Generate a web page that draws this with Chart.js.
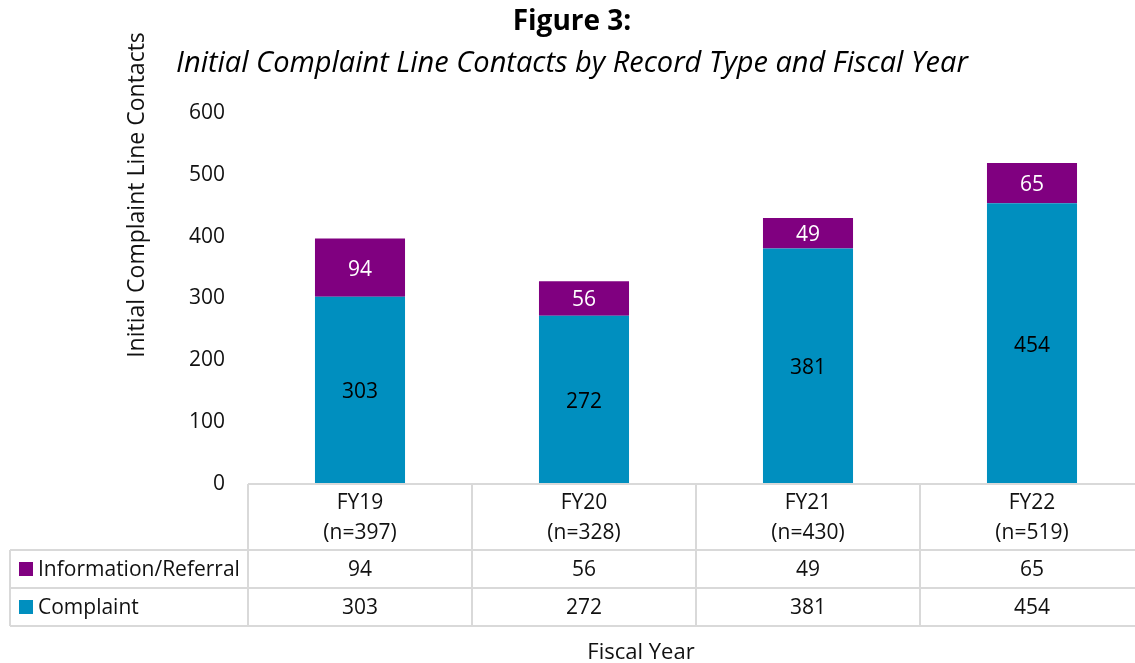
<!DOCTYPE html>
<html>
<head>
<meta charset="utf-8">
<script src="https://cdn.jsdelivr.net/npm/chart.js@4.4.0/dist/chart.umd.min.js"></script>
<style>
  html, body { margin: 0; padding: 0; background: #fff; overflow: hidden; }
  #wrap { width: 1135px; height: 663px; overflow: hidden; }
</style>
</head>
<body>
<div id="wrap"><canvas id="chart" width="1144" height="663"></canvas></div>
<script>
// Chart data
const categories = ['FY19', 'FY20', 'FY21', 'FY22'];
const infoReferral = [94, 56, 49, 65];
const complaint = [303, 272, 381, 454];
const seriesNames = ['Information/Referral', 'Complaint'];
const yMin = 0;
const yMax = 600;
const yStep = 100;

const FONT = '"Open Sans", sans-serif';
const PURPLE = '#800080';
const TEAL = '#008fbf';
const TEXT = '#111';
const LINE = '#d9d9d9';

// Value labels inside each bar segment
const segmentLabels = {
    id: 'segmentLabels',
    afterDatasetsDraw(chart) {
        const ctx = chart.ctx;
        ctx.save();
        ctx.font = '21px ' + FONT;
        ctx.textAlign = 'center';
        ctx.textBaseline = 'middle';
        chart.data.datasets.forEach(function(ds, di) {
            const meta = chart.getDatasetMeta(di);
            ctx.fillStyle = ds.labelColor;
            meta.data.forEach(function(bar, i) {
                const y = (bar.y + bar.base) / 2;
                ctx.fillText(String(ds.data[i]), bar.x, y + 2);
            });
        });
        ctx.restore();
    }
};

// Data table under the plot, plus axis titles
const dataTable = {
    id: 'dataTable',
    afterDraw(chart) {
        const ctx = chart.ctx;
        const x = chart.scales.x;
        const area = chart.chartArea;
        const half = (x.getPixelForValue(1) - x.getPixelForValue(0)) / 2;
        const top = area.bottom;
        const row1 = 550, row2 = 588, bottom = 626;
        const tableLeft = 10;

        ctx.save();
        ctx.strokeStyle = LINE;
        ctx.lineWidth = 2;
        ctx.beginPath();
        ctx.moveTo(area.left, top); ctx.lineTo(area.right, top);
        [row1, row2, bottom].forEach(function(y) {
            ctx.moveTo(tableLeft, y); ctx.lineTo(area.right, y);
        });
        ctx.moveTo(tableLeft, row1); ctx.lineTo(tableLeft, bottom);
        for (let i = 0; i <= categories.length; i++) {
            const px = x.getPixelForValue(i) - half;
            ctx.moveTo(px, top); ctx.lineTo(px, bottom);
        }
        ctx.stroke();

        ctx.fillStyle = TEXT;
        ctx.font = '21px ' + FONT;
        ctx.textAlign = 'center';
        ctx.textBaseline = 'middle';
        categories.forEach(function(cat, i) {
            const cx = x.getPixelForValue(i);
            ctx.fillText(cat, cx, 503);
            ctx.fillText('(n=' + (infoReferral[i] + complaint[i]) + ')', cx, 533);
            ctx.fillText(String(infoReferral[i]), cx, 570);
            ctx.fillText(String(complaint[i]), cx, 608);
        });

        // legend keys
        ctx.textAlign = 'left';
        [PURPLE, TEAL].forEach(function(c, r) {
            const cy = r === 0 ? 569 : 607;
            ctx.fillStyle = c;
            ctx.fillRect(19, cy - 7, 14, 14);
            ctx.fillStyle = TEXT;
            ctx.fillText(seriesNames[r], 38, cy + 1);
        });

        // axis titles
        ctx.textAlign = 'center';
        ctx.font = '22px ' + FONT;
        ctx.fillText('Fiscal Year', 641, 653);
        ctx.font = '23px ' + FONT;
        ctx.translate(137, 195);
        ctx.rotate(-Math.PI / 2);
        ctx.fillText('Initial Complaint Line Contacts', 0, 0);
        ctx.restore();
    }
};

new Chart(document.getElementById('chart'), {
    type: 'bar',
    data: {
        labels: categories,
        datasets: [
            {
                label: seriesNames[1],
                data: complaint,
                backgroundColor: TEAL,
                labelColor: '#000'
            },
            {
                label: seriesNames[0],
                data: infoReferral,
                backgroundColor: PURPLE,
                labelColor: '#fff'
            }
        ]
    },
    options: {
        responsive: false,
        animation: false,
        events: [],
        layout: {
            padding: { left: 0, right: 0, top: 0, bottom: 179 }
        },
        datasets: {
            bar: { categoryPercentage: 1, barPercentage: 0.402 }
        },
        scales: {
            x: {
                stacked: true,
                display: false
            },
            y: {
                stacked: true,
                min: yMin,
                max: yMax,
                grid: { display: false, drawTicks: false },
                border: { display: false },
                ticks: {
                    stepSize: yStep,
                    padding: 23,
                    color: TEXT,
                    font: { family: FONT, size: 21 }
                },
                afterFit: function(scale) { scale.width = 248; }
            }
        },
        plugins: {
            legend: { display: false },
            tooltip: { enabled: false },
            title: {
                display: true,
                text: 'Figure 3:',
                color: '#000',
                font: { family: FONT, size: 28, weight: 'bold' },
                padding: { top: 5.2, bottom: 0 }
            },
            subtitle: {
                display: true,
                text: 'Initial Complaint Line Contacts by Record Type and Fiscal Year',
                color: '#000',
                font: { family: FONT, size: 29, style: 'italic' },
                padding: { top: 7.8, bottom: 31.6 }
            }
        }
    },
    plugins: [segmentLabels, dataTable]
});
</script>
</body>
</html>
